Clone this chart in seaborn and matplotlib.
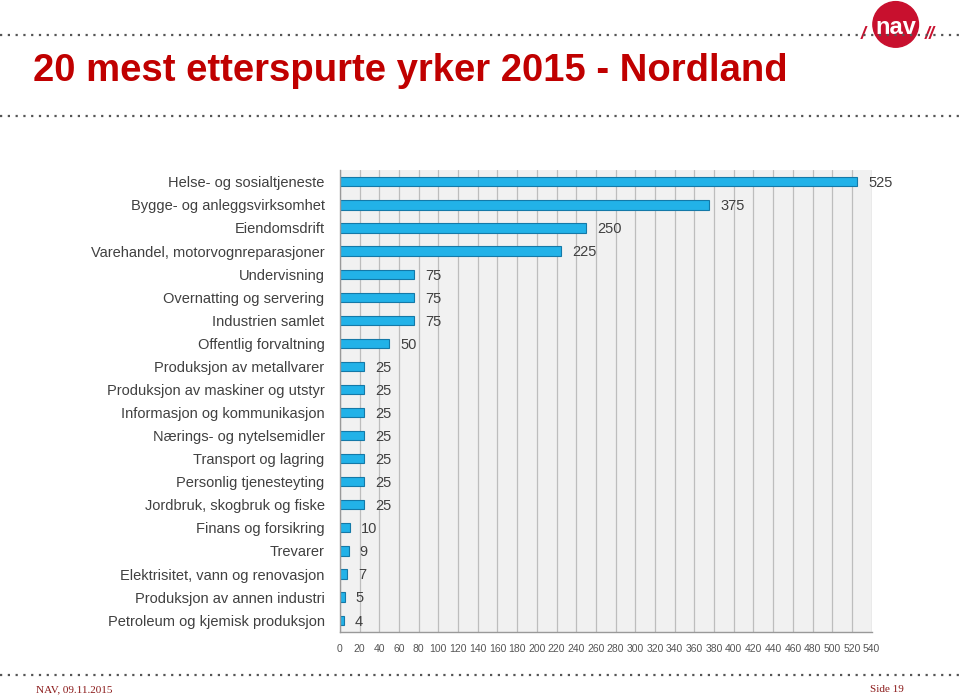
import seaborn as sns
import matplotlib.pyplot as plt
import pandas as pd
from matplotlib.patches import Circle

# data
categories = [
    "Helse- og sosialtjeneste", "Bygge- og anleggsvirksomhet", "Eiendomsdrift",
    "Varehandel, motorvognreparasjoner", "Undervisning", "Overnatting og servering",
    "Industrien samlet", "Offentlig forvaltning", "Produksjon av metallvarer",
    "Produksjon av maskiner og utstyr", "Informasjon og kommunikasjon",
    "Nærings- og nytelsemidler", "Transport og lagring", "Personlig tjenesteyting",
    "Jordbruk, skogbruk og fiske", "Finans og forsikring", "Trevarer",
    "Elektrisitet, vann og renovasjon", "Produksjon av annen industri",
    "Petroleum og kjemisk produksjon",
]
values = [525, 375, 250, 225, 75, 75, 75, 50, 25, 25, 25, 25, 25, 25, 25, 10, 9, 7, 5, 4]
x_ticks = list(range(0, 541, 20))

df = pd.DataFrame({"Yrke": categories, "Antall": values})

sns.set_style("white")
plt.rcParams["font.family"] = ["Liberation Sans", "DejaVu Sans"]

fig = plt.figure(figsize=(9.6, 6.98), dpi=100)
ax = fig.add_axes([0.354, 0.095, 0.554, 0.661])
ax.set_facecolor("#f1f1f1")

sns.barplot(data=df, x="Antall", y="Yrke", orient="h", color="#22b2e8",
            saturation=1, width=0.4, edgecolor="#1479a8", linewidth=0.8, ax=ax)

ax.set_xlim(0, 540)
ax.set_xticks(x_ticks)
ax.set_xticklabels([str(t) for t in x_ticks], fontsize=7.5, color="#555555")
ax.tick_params(axis="x", length=3, color="#999999", pad=6)
ax.tick_params(axis="y", length=0, labelsize=10.5, labelcolor="#404040", pad=11)
ax.set_yticks(range(len(categories)))
ax.set_yticks([i + 0.5 for i in range(-1, len(categories))], minor=True)
ax.tick_params(axis="y", which="minor", length=4, color="#999999")
ax.xaxis.grid(True, color="#bdbdbd", linewidth=0.9)
ax.set_axisbelow(True)
ax.set_xlabel("")
ax.set_ylabel("")
for side in ["top", "right"]:
    ax.spines[side].set_visible(False)
for side in ["left", "bottom"]:
    ax.spines[side].set_color("#999999")
    ax.spines[side].set_linewidth(1)

for i, v in enumerate(values):
    ax.annotate(str(v), (v, i), xytext=(8, -1), textcoords="offset points",
                va="center", ha="left", fontsize=10.5, color="#404040")

# title and page decorations
fig.text(0.034, 0.898, "20 mest etterspurte yrker 2015 - Nordland", fontsize=27.5,
         fontweight="bold", color="#c00000", va="center", ha="left")
for yy in [0.95, 0.834, 0.033]:
    fig.add_artist(plt.Line2D([0, 1], [yy, yy], transform=fig.transFigure,
                              color="#555555", linestyle=(0, (1, 2.5)), linewidth=1.6))
fig.text(0.037, 0.012, "NAV, 09.11.2015", fontsize=8, color="#8b1a1a",
         family="Liberation Serif", va="center")
fig.text(0.906, 0.012, "Side 19", fontsize=8, color="#8b1a1a",
         family="Liberation Serif", va="center")

# logo
logo = fig.add_axes([0.873, 0.92, 0.12, 0.09])
logo.set_xlim(-2.4, 2.4)
logo.set_ylim(-1.1, 1.1)
logo.set_aspect("equal")
logo.axis("off")
logo.add_patch(Circle((0, 0), 0.95, color="#c8102e", zorder=2))
logo.text(0, -0.12, "nav", color="white", fontsize=17, fontweight="bold",
          ha="center", va="center", zorder=3)
logo.text(-1.35, -0.4, "/", color="#c8102e", fontsize=13, fontweight="bold",
          ha="center", va="center", style="italic")
logo.text(1.4, -0.4, "//", color="#c8102e", fontsize=13, fontweight="bold",
          ha="center", va="center", style="italic")

fig.savefig("out.png", dpi=100)
plt.close(fig)
